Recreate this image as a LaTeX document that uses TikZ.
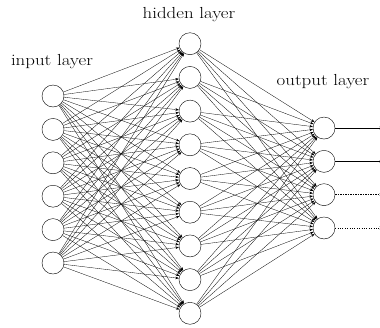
\documentclass[tikz,border=0pt]{standalone}
\usepackage{graphicx}
\usetikzlibrary{arrows.meta}
\begin{document}
\begin{tikzpicture}[x=1pt,y=-1pt,
  neuron/.style={circle,draw,line width=0.4pt,minimum size=22pt,inner sep=0pt},
  conn/.style={line width=0.3pt,-{Stealth[length=3.5pt,width=2.6pt]}},
  outl/.style={line width=0.4pt,-{Stealth[length=3.5pt,width=2.6pt]}},
  lbl/.style={font=\fontsize{16}{18}\selectfont,inner sep=0pt}]
\useasboundingbox (0,0) rectangle (380,327);
% nodes
\foreach \i in {1,...,6}
  \node[neuron] (I\i) at (53,{179.5+(\i-3.5)*33.4}) {};
\foreach \j in {1,...,9}
  \node[neuron] (H\j) at (190,{178.5+(\j-5)*33.7}) {};
\foreach \k in {1,...,4}
  \node[neuron] (O\k) at (324,{178+(\k-2.5)*33.3}) {};
% labels
\node[lbl] (Lin) at (52,62) {\scalebox{1.18}[1]{input layer}};
\node[lbl] (Lhid) at (189,15) {\scalebox{1.18}[1]{hidden layer}};
\node[lbl] (Lout) at (323,82) {\scalebox{1.18}[1]{output layer}};
% connections
\foreach \i in {1,...,6}
  \foreach \j in {1,...,9}
    \draw[conn] (I\i) -- (H\j);
\foreach \j in {1,...,9}
  \foreach \k in {1,...,4}
    \draw[conn] (H\j) -- (O\k);
% outputs
\foreach \k in {1,...,4}
  \coordinate (E\k) at (383,{178+(\k-2.5)*33.3});
\draw[outl] (O1) -- (E1);
\draw[outl] (O2) -- (E2);
\draw[outl,dash pattern=on 1.5pt off 1pt] (O3) -- (E3);
\draw[outl,dotted] (O4) -- (E4);
\end{tikzpicture}
\end{document}
